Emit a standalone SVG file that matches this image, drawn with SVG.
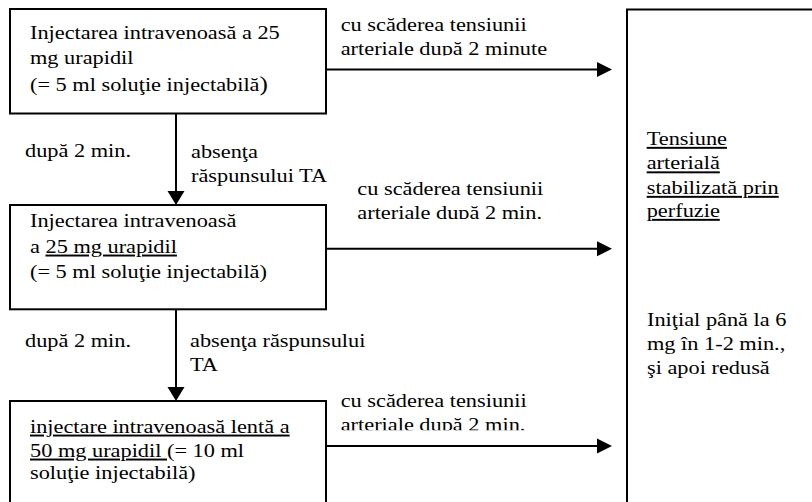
<svg xmlns="http://www.w3.org/2000/svg" width="812" height="502" viewBox="0 0 812 502">
<style>
.box{fill:#fff;stroke:#000;stroke-width:2}
.ln{fill:none;stroke:#000;stroke-width:2}
.head{fill:#000;stroke:none}
.t{font-family:"Liberation Serif","Times New Roman",serif;font-size:19.5px;fill:#000}
.u{text-decoration:underline}
</style>
<defs>
<clipPath id="c1"><rect x="330" y="0" width="290" height="55.5"/></clipPath>
<clipPath id="c2"><rect x="330" y="170" width="290" height="49"/></clipPath>
<clipPath id="c3"><rect x="330" y="380" width="290" height="50.2"/></clipPath>
</defs>
<rect width="812" height="502" fill="#fff"/>
<g id="node-right">
<rect class="box" x="627" y="9.5" width="220" height="520"/>
<text class="t" transform="translate(646.7,145) scale(1.145,1)"><tspan class="u" x="0" y="0">Tensiune</tspan><tspan class="u" x="0" y="24.5">arterială</tspan><tspan class="u" x="0" y="49">stabilizată prin</tspan><tspan class="u" x="0" y="72">perfuzie</tspan></text>
<text class="t" transform="translate(647,326) scale(1.145,1)"><tspan x="0" y="0">Iniţial până la 6</tspan><tspan x="0" y="24">mg în 1-2 min.,</tspan><tspan x="0" y="47.7">şi apoi redusă</tspan></text>
</g>
<g id="node-1">
<rect class="box" x="10" y="9" width="316" height="104.5"/>
<text class="t" transform="translate(30,39.3) scale(1.145,1)"><tspan x="0" y="0">Injectarea intravenoasă a 25</tspan><tspan x="0" y="25">mg urapidil</tspan><tspan x="0" y="51.5">(= 5 ml soluţie injectabilă<tspan style="font-size:22px">)</tspan></tspan></text>
</g>
<g id="node-2">
<rect class="box" x="10" y="205" width="316" height="104.3"/>
<text class="t" transform="translate(30,227.3) scale(1.145,1)"><tspan x="0" y="0">Injectarea intravenoasă</tspan><tspan x="0" y="25.4">a <tspan class="u">25 mg urapidil</tspan></tspan><tspan x="0" y="51">(= 5 ml soluţie injectabilă)</tspan></text>
</g>
<g id="node-3">
<rect class="box" x="10" y="401" width="316" height="130"/>
<text class="t" transform="translate(30,432.7) scale(1.145,1)"><tspan x="0" y="0" class="u">injectare intravenoasă lentă a</tspan><tspan x="0" y="24"><tspan class="u">50 mg urapidil </tspan>(= 10 ml</tspan><tspan x="0" y="46.8">soluţie injectabilă)</tspan></text>
</g>
<g id="connectors">
<line class="ln" x1="176" y1="113.5" x2="176" y2="192"/>
<polygon class="head" points="167.5,191 184.5,191 176,205"/>
<line class="ln" x1="176" y1="309.3" x2="176" y2="388"/>
<polygon class="head" points="167.5,387 184.5,387 176,401"/>
<line class="ln" x1="326" y1="69.5" x2="598" y2="69.5"/>
<polygon class="head" points="597,62 612,69.5 597,77"/>
<line class="ln" x1="326" y1="248.8" x2="598" y2="248.8"/>
<polygon class="head" points="597,241.3 612,248.8 597,256.3"/>
<line class="ln" x1="326" y1="446" x2="598" y2="446"/>
<polygon class="head" points="597,438.5 612,446 597,453.5"/>
</g>
<g id="labels">
<text class="t" transform="translate(25,157) scale(1.145,1)">după 2 min.</text>
<text class="t" transform="translate(191,158) scale(1.145,1)"><tspan x="0" y="0">absenţa</tspan><tspan x="0" y="24">răspunsului TA</tspan></text>
<text class="t" transform="translate(25,347) scale(1.145,1)">după 2 min.</text>
<text class="t" transform="translate(190,347) scale(1.145,1)"><tspan x="0" y="0">absenţa răspunsului</tspan><tspan x="0" y="24.5">TA</tspan></text>
<g clip-path="url(#c1)"><text class="t" transform="translate(340.7,30.7) scale(1.145,1)"><tspan x="0" y="0">cu scăderea tensiunii</tspan><tspan x="0" y="24.3">arteriale după 2 minute</tspan></text></g>
<g clip-path="url(#c2)"><text class="t" transform="translate(357.3,195) scale(1.145,1)"><tspan x="0" y="0">cu scăderea tensiunii</tspan><tspan x="0" y="24">arteriale după 2 min.</tspan></text></g>
<g clip-path="url(#c3)"><text class="t" transform="translate(340.7,406.7) scale(1.145,1)"><tspan x="0" y="0">cu scăderea tensiunii</tspan><tspan x="0" y="24">arteriale după 2 min.</tspan></text></g>
</g>
</svg>
